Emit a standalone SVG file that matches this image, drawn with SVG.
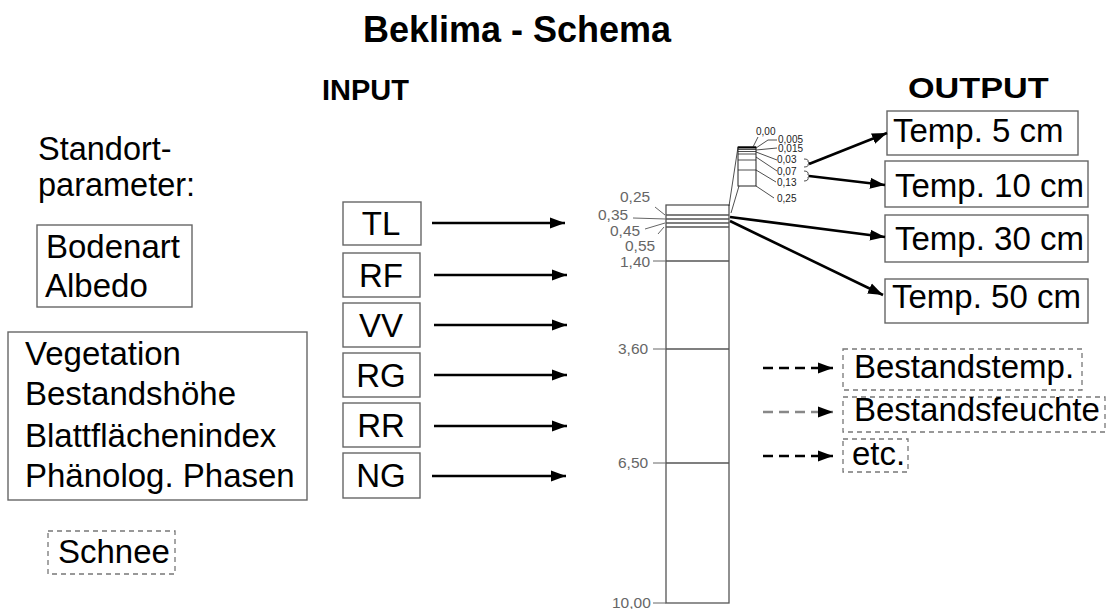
<svg xmlns="http://www.w3.org/2000/svg" width="1109" height="609" viewBox="0 0 1109 609">
<defs>
<style>
text{font-family:"Liberation Sans",Arial,sans-serif;fill:#000}
.t{font-size:33px}
.h{font-weight:bold}
.box{fill:none;stroke:#666;stroke-width:1.4}
.dbox{fill:none;stroke:#777;stroke-width:1.3;stroke-dasharray:5,4}
.arr{stroke:#000;stroke-width:2.6;fill:none;marker-end:url(#ah)}
.darr{stroke:#000;stroke-width:2.6;fill:none;stroke-dasharray:10,6;marker-end:url(#ah)}
.garr{stroke:#888;stroke-width:2.6;fill:none;stroke-dasharray:10,6;marker-end:url(#ahg)}
.col{fill:none;stroke:#555;stroke-width:1.3}
.lbl{font-size:15.5px;fill:#666}
.lead{stroke:#666;stroke-width:1;fill:none}
.sl{font-size:10px;fill:#222}
.slead{stroke:#222;stroke-width:0.8;fill:none}
</style>
<marker id="ah" markerUnits="userSpaceOnUse" markerWidth="16" markerHeight="12" refX="15" refY="6" orient="auto">
<path d="M0,0.5 L15,6 L0,11.5 Z" fill="#000"/>
</marker>
<marker id="ahg" markerUnits="userSpaceOnUse" markerWidth="16" markerHeight="12" refX="15" refY="6" orient="auto">
<path d="M0,0.5 L15,6 L0,11.5 Z" fill="#000"/>
</marker>
</defs>
<rect width="1109" height="609" fill="#fff"/>

<g id="title">
<text x="363" y="42" class="h" font-size="36">Beklima - Schema</text>
</g>
<g id="input-title"><text x="322" y="100" class="h" font-size="29">INPUT</text></g>
<g id="output-title"><text transform="translate(908,98) scale(1.18,1)" x="0" y="0" class="h" font-size="29">OUTPUT</text></g>

<g id="standort">
<text x="38" y="160" font-size="32.5">Standort-</text>
<text x="38" y="196" font-size="32.5">parameter:</text>
</g>
<g id="boden">
<rect x="37" y="225" width="155" height="82" class="box"/>
<text x="46" y="258" class="t">Bodenart</text>
<text x="45" y="297" class="t">Albedo</text>
</g>
<g id="vegetation">
<rect x="8" y="332" width="299" height="168" class="box"/>
<text x="25" y="365" class="t">Vegetation</text>
<text x="25" y="405" class="t">Bestandshöhe</text>
<text x="25" y="447" class="t">Blattflächenindex</text>
<text x="25" y="487" class="t">Phänolog. Phasen</text>
</g>
<g id="schnee">
<rect x="48" y="531" width="127" height="43" class="dbox"/>
<text x="58" y="563" class="t">Schnee</text>
</g>

<g id="in-TL"><rect x="343" y="202" width="78" height="43" class="box"/><text x="381" y="235" class="t" text-anchor="middle">TL</text></g>
<g id="in-RF"><rect x="343" y="253" width="77" height="44" class="box"/><text x="381" y="287" class="t" text-anchor="middle">RF</text></g>
<g id="in-VV"><rect x="343" y="303" width="77" height="44" class="box"/><text x="381" y="337" class="t" text-anchor="middle">VV</text></g>
<g id="in-RG"><rect x="343" y="353" width="77" height="44" class="box"/><text x="381" y="387" class="t" text-anchor="middle">RG</text></g>
<g id="in-RR"><rect x="343" y="403" width="77" height="44" class="box"/><text x="381" y="437" class="t" text-anchor="middle">RR</text></g>
<g id="in-NG"><rect x="343" y="453" width="77" height="45" class="box"/><text x="381" y="487" class="t" text-anchor="middle">NG</text></g>

<g id="soil-column">
<rect x="666" y="205" width="63" height="398" class="col"/>
<line x1="666" y1="215" x2="729" y2="215" class="col"/>
<line x1="666" y1="219" x2="729" y2="219" class="col"/>
<line x1="666" y1="223" x2="729" y2="223" class="col"/>
<line x1="666" y1="227" x2="729" y2="227" class="col"/>
<line x1="666" y1="261" x2="729" y2="261" class="col"/>
<line x1="666" y1="349" x2="729" y2="349" class="col"/>
<line x1="666" y1="463" x2="729" y2="463" class="col"/>
<text x="620" y="202" class="lbl">0,25</text>
<text x="598" y="220" class="lbl">0,35</text>
<text x="610" y="236" class="lbl">0,45</text>
<text x="625" y="251" class="lbl">0,55</text>
<text x="620" y="267" class="lbl">1,40</text>
<text x="618" y="354" class="lbl">3,60</text>
<text x="618" y="468" class="lbl">6,50</text>
<text x="612" y="608" class="lbl">10,00</text>
<path d="M655,207 L665,215" class="lead"/>
<path d="M633,218 L666,219" class="lead"/>
<path d="M645,229 L665,223" class="lead"/>
<path d="M658,234 L664,227" class="lead"/>
<path d="M653,261 L666,261" class="lead"/>
<path d="M653,349 L666,349" class="lead"/>
<path d="M653,463 L666,463" class="lead"/>
<path d="M653,603 L666,603" class="lead"/>
</g>

<g id="surface-detail">
<rect x="738" y="147" width="18" height="39" fill="none" stroke="#222" stroke-width="1"/>
<line x1="738" y1="147.5" x2="756" y2="147.5" stroke="#000" stroke-width="2"/>
<line x1="738" y1="149.5" x2="756" y2="149.5" stroke="#222" stroke-width="0.8"/>
<line x1="738" y1="151.5" x2="756" y2="151.5" stroke="#222" stroke-width="0.8"/>
<line x1="738" y1="154" x2="756" y2="154" stroke="#222" stroke-width="0.8"/>
<line x1="738" y1="160" x2="756" y2="160" stroke="#222" stroke-width="0.8"/>
<line x1="738" y1="170" x2="756" y2="170" stroke="#222" stroke-width="0.8"/>
<line x1="738" y1="147" x2="729" y2="206" class="slead"/>
<line x1="739" y1="186" x2="731" y2="213" class="slead"/>
<text x="756" y="135" class="sl">0,00</text>
<text x="778" y="143" class="sl">0,005</text>
<text x="778" y="152" class="sl">0,015</text>
<text x="777" y="163" class="sl">0,03</text>
<text x="777" y="175" class="sl">0,07</text>
<text x="777" y="186" class="sl">0,13</text>
<text x="777" y="202" class="sl">0,25</text>
<path d="M758,137 L753,147" class="slead"/>
<path d="M756,148 L768,140 L777,140" class="slead"/>
<path d="M756,150 L777,148" class="slead"/>
<path d="M756,152 L777,160" class="slead"/>
<path d="M756,157 L777,171" class="slead"/>
<path d="M756,170 L776,182" class="slead"/>
<path d="M756,186 L774,198" class="slead"/>
<path d="M804,159 Q809,159 808,162 L810,163 L808,164 Q809,167 804,167" class="slead"/>
<path d="M804,171 Q809,171 808,175 L810,176 L808,177 Q809,181 804,181" class="slead"/>
</g>

<g id="out-5"><rect x="887" y="111" width="191" height="44" class="box"/><text x="893" y="142" class="t">Temp. 5 cm</text></g>
<g id="out-10"><rect x="885" y="161" width="203" height="46" class="box"/><text x="895" y="197" class="t">Temp. 10 cm</text></g>
<g id="out-30"><rect x="885" y="215" width="203" height="47" class="box"/><text x="895" y="250" class="t">Temp. 30 cm</text></g>
<g id="out-50"><rect x="885" y="279" width="203" height="44" class="box"/><text x="892" y="308" class="t">Temp. 50 cm</text></g>
<g id="out-bestandstemp"><rect x="843" y="349" width="239" height="41" class="dbox"/><text x="854" y="378" class="t">Bestandstemp.</text></g>
<g id="out-bestandsfeuchte"><rect x="843" y="397" width="262" height="35" class="dbox"/><text x="854" y="421" class="t">Bestandsfeuchte</text></g>
<g id="out-etc"><rect x="843" y="439" width="65" height="33" class="dbox"/><text x="852" y="465" class="t">etc.</text></g>

<g id="connectors">
<line x1="432" y1="223" x2="565" y2="223" class="arr"/>
<line x1="434" y1="275" x2="567" y2="275" class="arr"/>
<line x1="434" y1="325" x2="567" y2="325" class="arr"/>
<line x1="434" y1="375" x2="567" y2="375" class="arr"/>
<line x1="434" y1="426" x2="567" y2="426" class="arr"/>
<line x1="432" y1="476" x2="566" y2="476" class="arr"/>
<line x1="809" y1="164" x2="887" y2="133" class="arr"/>
<line x1="809" y1="176" x2="885" y2="185" class="arr"/>
<line x1="730" y1="217" x2="885" y2="237" class="arr"/>
<line x1="730" y1="221" x2="883" y2="295" class="arr"/>
<line x1="763" y1="368" x2="833" y2="368" class="darr"/>
<line x1="763" y1="412" x2="833" y2="412" class="garr"/>
<line x1="763" y1="456" x2="833" y2="456" class="darr"/>
</g>
</svg>
